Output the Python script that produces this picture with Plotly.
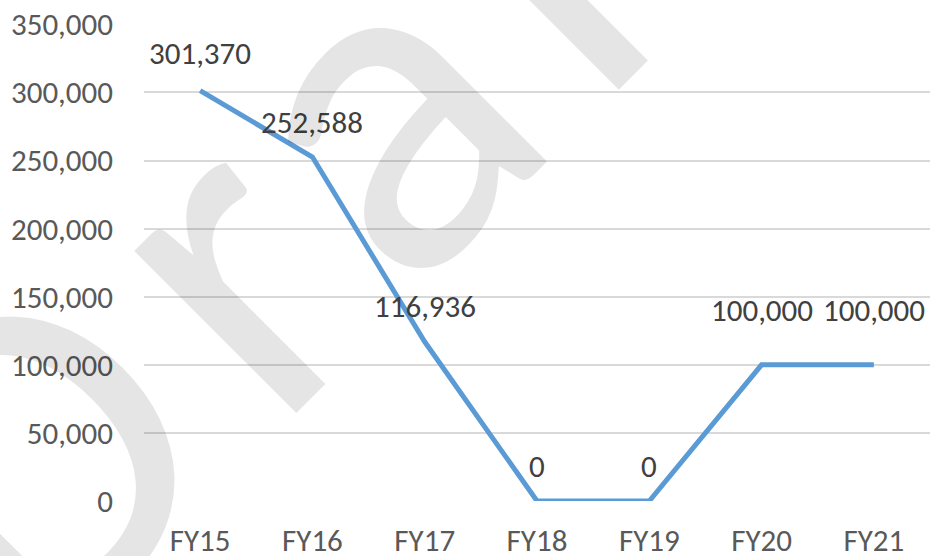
import math
import plotly.graph_objects as go

categories = ["FY15", "FY16", "FY17", "FY18", "FY19", "FY20", "FY21"]
values = [301370, 252588, 116936, 0, 0, 100000, 100000]
y_ticks = [0, 50000, 100000, 150000, 200000, 250000, 300000, 350000]
watermark_text = "Draft"

# style: vertical offsets (px) of the data labels above their points
label_shift = [38, 35, 36, 35, 35, 55, 55]
# style: watermark letter centres along the 45-degree reading direction (px)
wm_along = [-305, -30, 187, 409, 575]
wm_cross = 477      # x + y of the letter centres, page pixels
wm_size = 480

FONT = "Calibri, Carlito, Lato, sans-serif"

W, H = 930, 556
L, R, T, B = 144, 0, 24, 55

fig = go.Figure()
fig.add_trace(go.Scatter(
    x=categories, y=values, mode="lines",
    line=dict(color="#5B9BD5", width=5),
    hoverinfo="skip", showlegend=False,
))

annotations = []
for c, v, s in zip(categories, values, label_shift):
    annotations.append(dict(
        x=c, y=v, xref="x", yref="y", text=f"{v:,}", showarrow=False,
        yshift=s, xanchor="center", yanchor="middle",
        font=dict(family=FONT, size=31, color="#404040"),
    ))

# watermark, letter by letter along a -45 degree baseline
for ch, u in zip(watermark_text, wm_along):
    d = u * math.sqrt(2)
    px, py = (wm_cross + d) / 2, (wm_cross - d) / 2
    annotations.append(dict(
        x=(px - L) / (W - L - R), y=1 - (py - T) / (H - T - B),
        xref="paper", yref="paper", text=ch, showarrow=False,
        textangle=-45, xanchor="center", yanchor="middle",
        font=dict(family=FONT, size=wm_size, color="rgba(0,0,0,0.1)"),
    ))

fig.update_layout(
    width=W, height=H,
    margin=dict(l=L, r=R, t=T, b=B, autoexpand=False),
    paper_bgcolor="white", plot_bgcolor="white",
    annotations=annotations,
    xaxis=dict(
        type="category", range=[-0.5, 6.5], showgrid=False, showline=False,
        zeroline=False, ticks="", ticklabelstandoff=18, automargin=False,
        tickfont=dict(family=FONT, size=31, color="#595959"),
    ),
    yaxis=dict(
        range=[0, 350300], tickvals=y_ticks, tickformat=",",
        showgrid=True, gridcolor="#D9D9D9", gridwidth=1.5, automargin=False,
        zeroline=False, showline=False, ticks="", ticklabelstandoff=30,
        tickfont=dict(family=FONT, size=31, color="#595959"),
    ),
)

fig.write_html(
    "out.html",
    config={"displayModeBar": False},
    post_script="document.body.style.margin='0';document.body.style.overflow='hidden';",
)
